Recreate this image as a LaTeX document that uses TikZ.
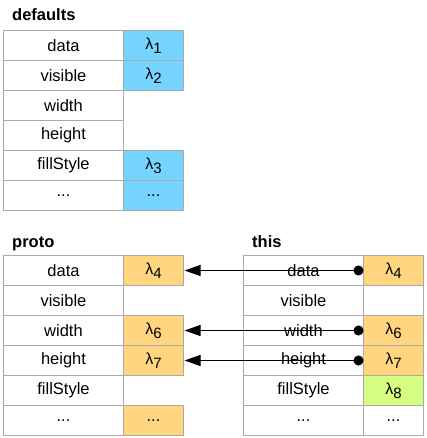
\documentclass[tikz,border=0pt]{standalone}
\usepackage{fontspec}
\setmainfont{Liberation Sans}
\usetikzlibrary{arrows.meta}
\definecolor{cblue}{RGB}{117,213,255}
\definecolor{corange}{RGB}{255,213,128}
\definecolor{cgreen}{RGB}{213,255,128}
\definecolor{cgrid}{RGB}{170,170,170}
\newcommand{\lam}[1]{{\fontsize{16}{18}\selectfont λ\raisebox{-4pt}{\fontsize{15}{16}\selectfont #1}}}
\newcommand{\ddd}{...}
\begin{document}
\begin{tikzpicture}[x=1pt,y=-1pt,
  every node/.style={font=\fontsize{16.5}{19}\selectfont},
  keycell/.style={draw=cgrid, line width=1pt, minimum width=120pt, minimum height=30pt, inner sep=0pt, outer sep=0pt, anchor=north west},
  valcell/.style={draw=cgrid, line width=1pt, minimum width=60pt, minimum height=30pt, inner sep=0pt, outer sep=0pt, anchor=north west},
  title/.style={font=\fontsize{16.5}{19}\selectfont\bfseries, anchor=base west, inner sep=0pt},
  link/.style={line width=1pt, {Triangle[length=16pt,width=11pt]}-{Circle[length=10pt]}}
]
\useasboundingbox (0,0) rectangle (426,438);
% defaults
\node[title] (tdef) at (12,21) {defaults};
\foreach \t [count=\i] in {data,visible,width,height,fillStyle,\ddd}
  \node[keycell] (dk\i) at (3.5,{30.5+(\i-1)*30}) {\t};
\node[valcell, fill=cblue] (dv1) at (123.5,30.5) {\lam{1}};
\node[valcell, fill=cblue] (dv2) at (123.5,60.5) {\lam{2}};
\node[valcell, fill=cblue] (dv5) at (123.5,150.5) {\lam{3}};
\node[valcell, fill=cblue] (dv6) at (123.5,180.5) {\ddd};
% proto
\node[title] (tproto) at (12,247) {proto};
\foreach \t [count=\i] in {data,visible,width,height,fillStyle,\ddd}
  \node[keycell] (pk\i) at (3.5,{255.5+(\i-1)*30}) {\t};
\node[valcell, fill=corange] (pv1) at (123.5,255.5) {\lam{4}};
\node[valcell, fill=corange] (pv3) at (123.5,315.5) {\lam{6}};
\node[valcell, fill=corange] (pv4) at (123.5,345.5) {\lam{7}};
\node[valcell, fill=corange] (pv6) at (123.5,405.5) {\ddd};
% this
\node[title] (tthis) at (252,247) {this};
\foreach \t [count=\i] in {data,visible,width,height,fillStyle,\ddd}
  \node[keycell] (tk\i) at (243.5,{255.5+(\i-1)*30}) {\t};
\node[valcell, fill=corange] (tv1) at (363.5,255.5) {\lam{4}};
\node[valcell] (tv2) at (363.5,285.5) {};
\node[valcell, fill=corange] (tv3) at (363.5,315.5) {\lam{6}};
\node[valcell, fill=corange] (tv4) at (363.5,345.5) {\lam{7}};
\node[valcell, fill=cgreen] (tv5) at (363.5,375.5) {\lam{8}};
\node[valcell] (tv6) at (363.5,405.5) {\ddd};
% links
\foreach \i in {1,3,4}
  \draw[link] ([xshift=1pt]pv\i.east) -- (tv\i.west);
\end{tikzpicture}
\end{document}
